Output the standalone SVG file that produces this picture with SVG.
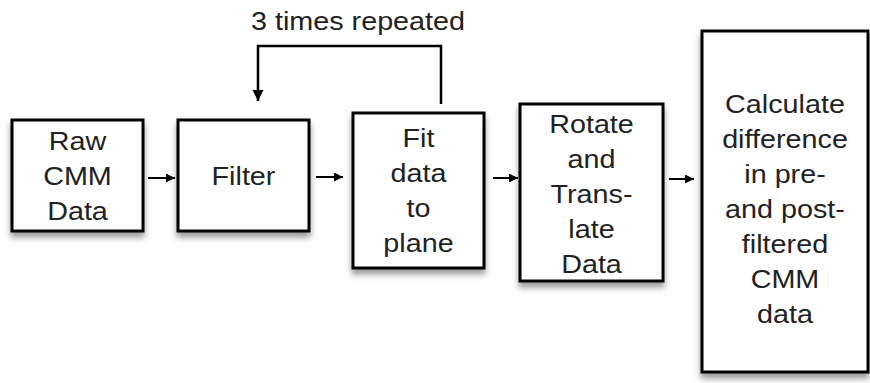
<svg xmlns="http://www.w3.org/2000/svg" width="870" height="383" viewBox="0 0 870 383">
<defs>
<style>
.box{fill:#fff;stroke:#000;stroke-width:3;filter:url(#sh)}
.lbl{font-family:"Liberation Sans",Arial,sans-serif;font-size:25px;fill:#222;text-anchor:middle}
.conn{fill:none;stroke:#000;stroke-width:2.5}
.arr{fill:none;stroke:#000;stroke-width:2}
</style>
<filter id="sh" x="-20%" y="-20%" width="140%" height="150%">
<feDropShadow dx="0" dy="5" stdDeviation="3" flood-color="#000" flood-opacity="0.4"/>
</filter>
<marker id="ah" viewBox="0 0 10 10" refX="10" refY="5" markerWidth="4.5" markerHeight="4.5" markerUnits="strokeWidth" orient="auto">
<path d="M0,0 L10,5 L0,10 z" fill="#000"/>
</marker>
</defs>
<rect width="870" height="383" fill="#fff"/>
<g id="n1"><rect class="box" x="12" y="120" width="131" height="111"/>
<text class="lbl" transform="translate(77.5 0) scale(1.15 1)"><tspan x="0" y="150">Raw</tspan><tspan x="0" y="185">CMM</tspan><tspan x="0" y="220">Data</tspan></text></g>
<g id="n2"><rect class="box" x="178" y="120" width="131" height="111"/>
<text class="lbl" transform="translate(243.5 0) scale(1.15 1)"><tspan x="0" y="185">Filter</tspan></text></g>
<g id="n3"><rect class="box" x="353" y="113" width="131" height="155"/>
<text class="lbl" transform="translate(418.5 0) scale(1.15 1)"><tspan x="0" y="147">Fit</tspan><tspan x="0" y="182">data</tspan><tspan x="0" y="217">to</tspan><tspan x="0" y="252">plane</tspan></text></g>
<g id="n4"><rect class="box" x="520" y="104" width="143" height="177"/>
<text class="lbl" transform="translate(591.5 0) scale(1.15 1)"><tspan x="0" y="133">Rotate</tspan><tspan x="0" y="168">and</tspan><tspan x="0" y="203">Trans-</tspan><tspan x="0" y="238">late</tspan><tspan x="0" y="273">Data</tspan></text></g>
<g id="n5"><rect class="box" x="702" y="31" width="166" height="341"/>
<text class="lbl" transform="translate(785 0) scale(1.15 1)"><tspan x="0" y="113">Calculate</tspan><tspan x="0" y="148">difference</tspan><tspan x="0" y="183">in pre-</tspan><tspan x="0" y="218">and post-</tspan><tspan x="0" y="253">filtered</tspan><tspan x="0" y="288">CMM</tspan><tspan x="0" y="323">data</tspan></text></g>
<g id="loop-label"><text class="lbl" transform="translate(358 0) scale(1.15 1)"><tspan x="0" y="30">3 times repeated</tspan></text></g>
<g id="connectors">
<line class="arr" x1="148" y1="178" x2="175" y2="178" marker-end="url(#ah)"/>
<line class="arr" x1="316" y1="177" x2="343" y2="177" marker-end="url(#ah)"/>
<line class="arr" x1="493" y1="178" x2="518" y2="178" marker-end="url(#ah)"/>
<line class="arr" x1="669" y1="179" x2="694" y2="179" marker-end="url(#ah)"/>
<polyline class="conn" points="441,104 441,46 258,46 258,101" marker-end="url(#ah)"/>
</g>
</svg>
